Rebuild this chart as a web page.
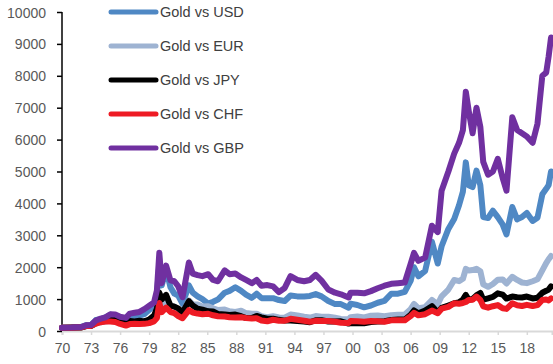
<!DOCTYPE html>
<html>
<head>
<meta charset="utf-8">
<script src="https://cdn.jsdelivr.net/npm/d3@7"></script>
<style>
  html, body { margin: 0; padding: 0; background: #fff; }
  svg { display: block; }
  .axis text { font-family: "Liberation Sans", Arial, sans-serif; font-size: 14px; fill: #595959; }
  .legend text { font-family: "Liberation Sans", Arial, sans-serif; font-size: 14.5px; fill: #404040; }
</style>
</head>
<body>
<div id="chart"></div>
<script>
// index, 1970 = 100
var years = [1970.0, 1971.0, 1972.0, 1972.5, 1973.0, 1973.5, 1974.0, 1974.5, 1975.0, 1975.5,
  1976.0, 1976.6, 1977.0, 1977.5, 1978.0, 1978.5, 1979.0, 1979.5, 1979.8, 1980.05,
  1980.3, 1980.75, 1981.2, 1981.6, 1982.0, 1982.45, 1983.1, 1983.5, 1984.0, 1984.5,
  1985.1, 1985.6, 1986.1, 1986.8, 1987.3, 1987.9, 1988.5, 1989.0, 1989.6, 1990.1,
  1990.6, 1991.2, 1991.8, 1992.4, 1993.0, 1993.6, 1994.3, 1995.0, 1995.6, 1996.2,
  1996.8, 1997.5, 1998.2, 1998.8, 1999.6, 1999.8, 2000.5, 2001.2, 2001.9, 2002.6,
  2003.3, 2004.0, 2004.7, 2005.4, 2006.0, 2006.35, 2006.8, 2007.5, 2008.2, 2008.8,
  2009.2, 2009.9, 2010.5, 2011.0, 2011.4, 2011.7, 2012.0, 2012.4, 2012.8, 2013.2,
  2013.5, 2014.0, 2014.5, 2015.0, 2015.5, 2015.9, 2016.5, 2017.0, 2017.5, 2018.0,
  2018.6, 2019.1, 2019.6, 2020.0, 2020.25, 2020.5];

var usd = [100, 107, 131, 186, 186, 343, 371, 429, 514, 471,
  371, 300, 386, 409, 486, 529, 657, 800, 1114, 2100,
  1430, 1940, 1370, 1170, 1110, 850, 1430, 1200, 1085, 1000,
  860, 915, 985, 1200, 1257, 1370, 1257, 1140, 1040, 1170,
  1030, 1030, 1030, 970, 940, 1114, 1085, 1085, 1100, 1157,
  1085, 940, 843, 843, 730, 857, 815, 743, 800, 886,
  943, 1170, 1170, 1230, 1570, 2000, 1714, 1886, 2800, 2114,
  2657, 3200, 3514, 3943, 4371, 5286, 4571, 4514, 5028, 4571,
  3571, 3543, 3771, 3571, 3343, 3028, 3886, 3500, 3571, 3700,
  3450, 3550, 4286, 4457, 4571, 5000];

var eur = [100, 105, 115, 162, 163, 234, 274, 299, 330, 309,
  264, 205, 253, 257, 279, 296, 332, 404, 533, 993,
  762, 954, 804, 767, 682, 558, 957, 836, 830, 765,
  775, 712, 659, 672, 618, 599, 635, 561, 540, 543,
  464, 436, 464, 424, 416, 517, 489, 445, 421, 468,
  450, 449, 415, 380, 369, 433, 456, 426, 481, 484,
  464, 495, 511, 521, 686, 847, 716, 747, 972, 837,
  1089, 1300, 1600, 1562, 1636, 1950, 1897, 1910, 1950, 1874,
  1464, 1385, 1474, 1610, 1618, 1490, 1700, 1600, 1520, 1500,
  1560, 1620, 1900, 2130, 2249, 2350];

var jpy = [100, 106, 112, 155, 156, 252, 308, 338, 414, 386,
  314, 242, 314, 302, 324, 300, 356, 482, 696, 1200,
  993, 1131, 792, 764, 709, 579, 934, 800, 699, 667,
  617, 610, 534, 517, 499, 514, 464, 406, 405, 472,
  429, 386, 386, 350, 326, 328, 310, 298, 275, 338,
  337, 300, 295, 304, 233, 250, 242, 244, 278, 295,
  309, 348, 358, 359, 506, 644, 557, 639, 778, 587,
  723, 800, 868, 899, 983, 1131, 978, 1002, 1116, 1193,
  982, 1024, 1067, 1182, 1143, 1017, 1080, 1060, 1050, 1080,
  1020, 1040, 1200, 1260, 1300, 1400];

var chf = [100, 105, 115, 162, 160, 235, 276, 294, 300, 280,
  221, 170, 216, 229, 222, 224, 248, 302, 408, 880,
  589, 733, 596, 562, 470, 399, 655, 577, 546, 526,
  541, 492, 462, 453, 431, 423, 431, 405, 393, 401,
  330, 306, 353, 322, 322, 382, 353, 322, 289, 318,
  310, 312, 289, 260, 250, 314, 308, 289, 311, 304,
  291, 335, 335, 338, 466, 572, 490, 526, 641, 556,
  699, 755, 868, 856, 879, 909, 973, 980, 1081, 973,
  775, 730, 777, 811, 712, 693, 870, 809, 785, 821,
  782, 812, 971, 989, 960, 1020];

var gbp = [100, 107, 123, 182, 190, 329, 387, 429, 525, 514,
  445, 411, 545, 571, 598, 686, 788, 893, 1273, 2450,
  1500, 2050, 1590, 1560, 1402, 1060, 2150, 1800, 1750, 1720,
  1780, 1600, 1560, 1900, 1780, 1800, 1680, 1600, 1500, 1600,
  1420, 1440, 1400, 1220, 1350, 1720, 1600, 1560, 1600, 1760,
  1580, 1300, 1200, 1150, 1050, 1200, 1200, 1180, 1250, 1340,
  1420, 1480, 1500, 1520, 2100, 2450, 2200, 2300, 3300, 3100,
  4400, 5000, 5560, 5900, 6300, 7500, 6900, 6200, 7000, 6400,
  5300, 4900, 5000, 5400, 4800, 4400, 6700, 6300, 6200, 6100,
  5900, 6500, 8000, 8100, 8600, 9200];

var seriesNames = ["Gold vs USD", "Gold vs EUR", "Gold vs JPY", "Gold vs CHF", "Gold vs GBP"];
var seriesColors = ["#4f88c4", "#9eb3d2", "#000000", "#ee1b24", "#7030a0"];
var seriesValues = [usd, eur, jpy, chf, gbp];

var yTicks = d3.range(0, 10001, 1000);
var xTicks = d3.range(1970, 2019, 3);

var width = 553;
var height = 364;
var margin = { top: 12, right: 1, bottom: 33, left: 62 };

var svg = d3
  .select("#chart")
  .append("svg")
  .attr("width", width)
  .attr("height", height);

var x = d3
  .scaleLinear()
  .domain([1970, 2020.6])
  .range([margin.left, width - margin.right]);

var y = d3
  .scaleLinear()
  .domain([0, 10000])
  .range([height - margin.bottom, margin.top]);

// x axis, light grey
var xAxis = svg
  .append("g")
  .attr("class", "axis")
  .attr("transform", "translate(0," + (height - margin.bottom) + ")")
  .call(
    d3
      .axisBottom(x)
      .tickValues(xTicks)
      .tickSize(4)
      .tickPadding(8)
      .tickFormat(function(d) {
        return String(d % 100).padStart(2, "0");
      })
  );
xAxis.select(".domain").attr("stroke", "#d9d9d9").attr("stroke-width", 2);
xAxis.selectAll(".tick line").attr("stroke", "#d9d9d9").attr("stroke-width", 1.5);

// y axis, black
var yAxis = svg
  .append("g")
  .attr("class", "axis")
  .attr("transform", "translate(" + margin.left + ",0)")
  .call(
    d3
      .axisLeft(y)
      .tickValues(yTicks)
      .tickSize(5)
      .tickPadding(11)
      .tickFormat(d3.format("d"))
  );
yAxis.select(".domain").attr("stroke", "#000").attr("stroke-width", 1.5).attr("d", "M0," + y(10000) + "V" + y(0));
yAxis.selectAll(".tick line").attr("stroke", "#000").attr("stroke-width", 1.5);
yAxis.selectAll(".tick text").attr("dy", "0.36em");

var line = d3
  .line()
  .x(function(d) {
    return x(d[0]);
  })
  .y(function(d) {
    return y(d[1]);
  });

seriesValues.forEach(function(vals, i) {
  svg
    .append("path")
    .datum(
      years.map(function(yr, j) {
        return [yr, vals[j]];
      })
    )
    .attr("fill", "none")
    .attr("stroke", seriesColors[i])
    .attr("stroke-width", 6)
    .attr("stroke-linejoin", "round")
    .attr("stroke-linecap", "round")
    .attr("d", line);
});

var legend = svg.append("g").attr("class", "legend");
var legendItem = legend
  .selectAll("g")
  .data(seriesNames)
  .enter()
  .append("g")
  .attr("transform", function(d, i) {
    return "translate(110," + (12 + i * 34) + ")";
  });

legendItem
  .append("line")
  .attr("x1", 1)
  .attr("x2", 46)
  .attr("stroke", function(d, i) {
    return seriesColors[i];
  })
  .attr("stroke-width", 5)
  .attr("stroke-linecap", "round");

legendItem
  .append("text")
  .attr("x", 50)
  .attr("dy", "0.36em")
  .text(function(d) {
    return d;
  });
</script>
</body>
</html>
